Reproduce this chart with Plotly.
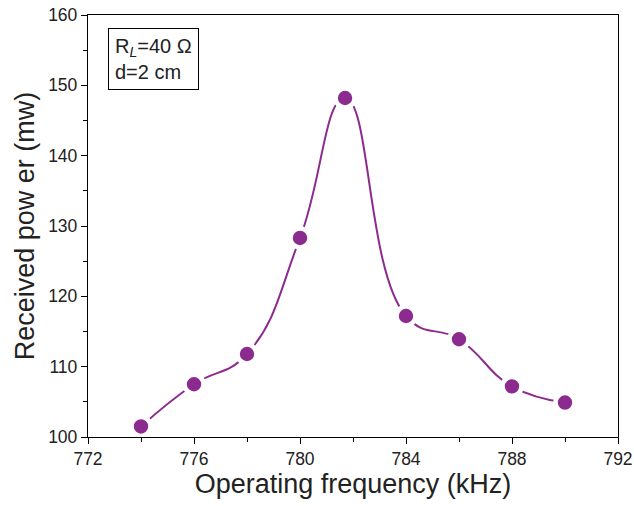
import plotly.graph_objects as go

freq = [774, 776, 778, 780, 781.7, 784, 786, 788, 790]
power = [101.5, 107.5, 111.8, 128.3, 148.2, 117.2, 113.9, 107.2, 104.9]

x_ticks = [772, 776, 780, 784, 788, 792]
y_ticks = [100, 110, 120, 130, 140, 150, 160]

color = "#8c2b8f"
font_family = "Liberation Sans, Arial"

fig = go.Figure()
fig.add_trace(go.Scatter(
    x=freq, y=power, mode="lines+markers",
    line=dict(color=color, width=2, shape="spline", smoothing=1.3),
    marker=dict(color=color, size=19, line=dict(color="white", width=4.6)),
    showlegend=False,
))

axis_common = dict(
    showgrid=False, zeroline=False, showline=True, linecolor="black", linewidth=1.3,
    mirror=True, ticks="outside", ticklen=6, tickwidth=1.3, tickcolor="black",
    ticklabeloverflow="allow",
    tickfont=dict(family=font_family, size=17.5, color="#222"),
)

fig.update_xaxes(range=[772, 792], tickvals=x_ticks,
                 minor=dict(dtick=2, ticks="outside", ticklen=4, tickwidth=1.3, tickcolor="black"),
                 title=dict(text="Operating frequency (kHz)", font=dict(family=font_family, size=27, color="#222"), standoff=4),
                 **axis_common)
fig.update_yaxes(range=[100, 160], tickvals=y_ticks,
                 minor=dict(dtick=5, ticks="outside", ticklen=4, tickwidth=1.3, tickcolor="black"),
                 title=dict(text="Received pow er (mw)", font=dict(family=font_family, size=27, color="#222"), standoff=5),
                 **axis_common)

fig.add_annotation(
    x=0.038, y=0.97, xref="paper", yref="paper", xanchor="left", yanchor="top",
    text="R<sub><i>L</i></sub>=40 Ω<br>d=2 cm", showarrow=False, align="left",
    font=dict(family=font_family, size=20, color="#222"),
    bordercolor="black", borderwidth=1, borderpad=6, bgcolor="white",
)

fig.update_layout(
    width=634, height=506, template=None,
    plot_bgcolor="white", paper_bgcolor="white",
    margin=dict(l=88, r=16, t=15, b=69),
)

fig.write_html("out.html", config={"displayModeBar": False},
               post_script="document.body.style.margin='0';document.body.style.overflow='hidden';")
